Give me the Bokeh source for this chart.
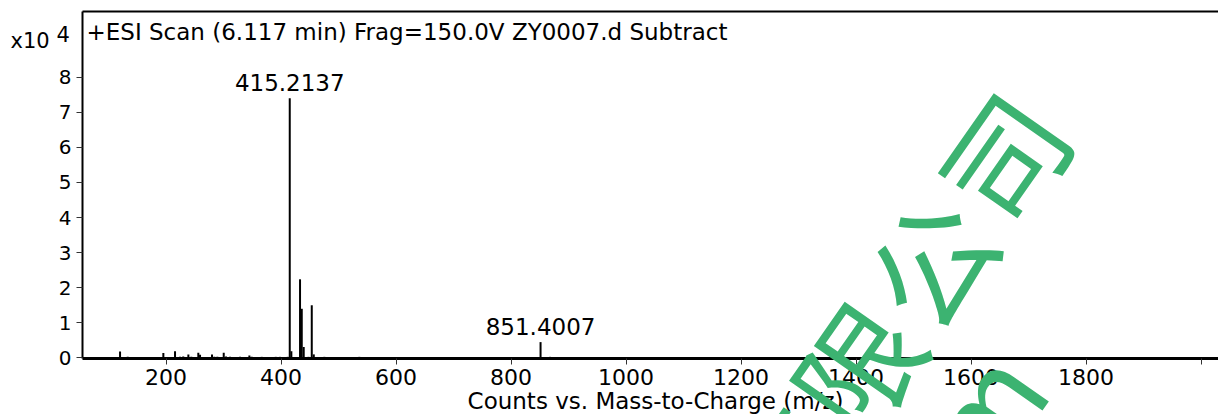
import math
from bokeh.plotting import figure
from bokeh.models import Range1d, FixedTicker, Label, ColumnDataSource, LinearAxis
from bokeh.core.properties import value
from bokeh.embed import file_html
from bokeh.resources import INLINE

# ---------------- data (intensity in units of 10^4 counts) ----------------
mz = [120.1, 133.4, 195.4, 215.7, 224.4, 230.0, 238.9, 244.0, 256.2, 259.2,
      280.0, 284.0, 289.3, 300.4, 304.4, 311.4, 328.8, 345.0, 349.0, 360.6,
      366.5, 390.9, 398.3, 411.7, 415.2137, 418.0, 433.1, 436.1, 439.5, 447.8,
      453.5, 457.0, 475.4, 536.2, 851.4007, 868.0]
intensity = [0.18, 0.03, 0.14, 0.19, 0.03, 0.04, 0.10, 0.03, 0.15, 0.09,
             0.10, 0.03, 0.03, 0.15, 0.04, 0.03, 0.03, 0.07, 0.03, 0.02,
             0.03, 0.03, 0.03, 0.03, 7.40, 0.19, 2.24, 1.40, 0.31, 0.03,
             1.50, 0.10, 0.03, 0.03, 0.45, 0.03]
peak_label_mz = [415.2137, 851.4007]
peak_label_int = [7.40, 0.45]
peak_label_text = [f"{m:.4f}" for m in peak_label_mz]

x_ticks = [200, 400, 600, 800, 1000, 1200, 1400, 1600, 1800, 2000]
x_tick_labels = {t: ("" if t == 2000 else str(t)) for t in x_ticks}
y_ticks = [0, 1, 2, 3, 4, 5, 6, 7, 8]

title_text = "+ESI Scan (6.117 min) Frag=150.0V ZY0007.d  Subtract"
x_label_text = "Counts vs. Mass-to-Charge (m/z)"
y_mult_base = "x10"
y_mult_exp = "4"
watermark_chars = ["有", "限", "公", "司"]
watermark_tail = "m"

# ---------------- layout (canvas pixels) ----------------
W, H = 1218, 414
PX_PER_MZ = 0.575          # horizontal scale
MZ0_PX = 50.5              # pixel of m/z = 0
PX_PER_UNIT = 35.09        # vertical scale (per 10^4 counts)
ZERO_PX = 357.4            # pixel of intensity 0
FRAME_L, FRAME_T, FRAME_B = 82, 10.5, 358.3


def px_x(px):
    return (px - MZ0_PX) / PX_PER_MZ


def px_y(py):
    return (ZERO_PX - py) / PX_PER_UNIT


X_LO, X_HI = px_x(0), px_x(W)
Y_LO, Y_HI = px_y(H), px_y(0)

FONT = "DejaVu Sans"

p = figure(width=W, height=H, output_backend="svg", toolbar_location=None,
           x_range=Range1d(X_LO, X_HI), y_range=Range1d(Y_LO, Y_HI),
           min_border=0, min_border_left=0, min_border_right=0,
           min_border_top=0, min_border_bottom=0, title=None)
p.outline_line_color = None
p.background_fill_color = "white"
p.border_fill_color = "white"
p.xgrid.visible = False
p.ygrid.visible = False

src = ColumnDataSource(dict(mz=mz, y0=[0] * len(mz), y1=intensity))
p.segment(x0="mz", y0="y0", x1="mz", y1="y1", source=src,
          line_color="black", line_width=2)

lsrc = ColumnDataSource(dict(x=peak_label_mz, y=peak_label_int, t=peak_label_text))
p.text(x="x", y="y", text="t", source=lsrc, text_align="center",
       text_baseline="alphabetic", y_offset=-16, text_color="black",
       text_font=value(FONT), text_font_size="23px")

# axes placed at fixed data locations
xa = p.xaxis[0]
ya = p.yaxis[0]
xa.fixed_location = px_y(FRAME_B)
ya.fixed_location = px_x(FRAME_L)
xa.bounds = (px_x(FRAME_L), X_HI)
ya.bounds = (px_y(FRAME_B), px_y(FRAME_T))
for ax in (xa, ya):
    ax.axis_line_color = "black"
    ax.axis_line_width = 2
    ax.major_tick_line_color = "#333333"
    ax.major_tick_line_width = 1
    ax.major_tick_in = 0
    ax.major_tick_out = 6
    ax.minor_tick_line_color = None
    ax.major_label_text_font = FONT
    ax.major_label_text_color = "black"
    ax.axis_label = None
xa.axis_line_width = 3
xa.ticker = FixedTicker(ticks=x_ticks)
xa.major_label_overrides = x_tick_labels
xa.major_label_text_font_size = "22px"
xa.major_label_standoff = 4
ya.ticker = FixedTicker(ticks=y_ticks)
ya.major_label_text_font_size = "20px"
ya.major_label_standoff = 5

top = LinearAxis(fixed_location=px_y(FRAME_T), bounds=(px_x(FRAME_L), X_HI),
                 ticker=FixedTicker(ticks=[]), major_label_text_font_size="0px",
                 major_tick_line_color=None, minor_tick_line_color=None,
                 axis_line_color="black", axis_line_width=2)
p.add_layout(top, "above")

# texts
p.add_layout(Label(x=px_x(86), y=px_y(31.5), text=title_text, text_font=FONT,
                   text_font_size="23px", text_color="black",
                   text_baseline="alphabetic", text_align="left"))
p.add_layout(Label(x=px_x(10), y=px_y(40), text=y_mult_base, text_font=FONT,
                   text_font_size="21px", text_color="black",
                   text_baseline="alphabetic", text_align="left"))
p.add_layout(Label(x=px_x(56), y=px_y(33.5), text=y_mult_exp, text_font=FONT,
                   text_font_size="21px", text_color="black",
                   text_baseline="alphabetic", text_align="left"))
p.add_layout(Label(x=px_x(655), y=px_y(400), text=x_label_text, text_font=FONT,
                   text_font_size="23px", text_color="black",
                   text_baseline="alphabetic", text_align="center"))

# watermark
ang = math.radians(55)
step = 128
cx, cy = 1000, 155
n = len(watermark_chars)
for i, ch in enumerate(watermark_chars):
    k = n - 1 - i
    wx = cx - k * step * math.cos(ang)
    wy = cy + k * step * math.sin(ang)
    p.add_layout(Label(x=px_x(wx), y=px_y(wy), text=ch, angle=ang,
                       text_font="Noto Sans CJK SC", text_font_size="122px",
                       text_color="#3CB371", text_align="center",
                       text_baseline="middle"))
p.add_layout(Label(x=px_x(978), y=px_y(408), text=watermark_tail, angle=ang,
                   text_font="Noto Sans CJK SC", text_font_size="122px",
                   text_color="#3CB371", text_align="center",
                   text_baseline="middle"))

open("out.html", "w").write(file_html(p, INLINE))
